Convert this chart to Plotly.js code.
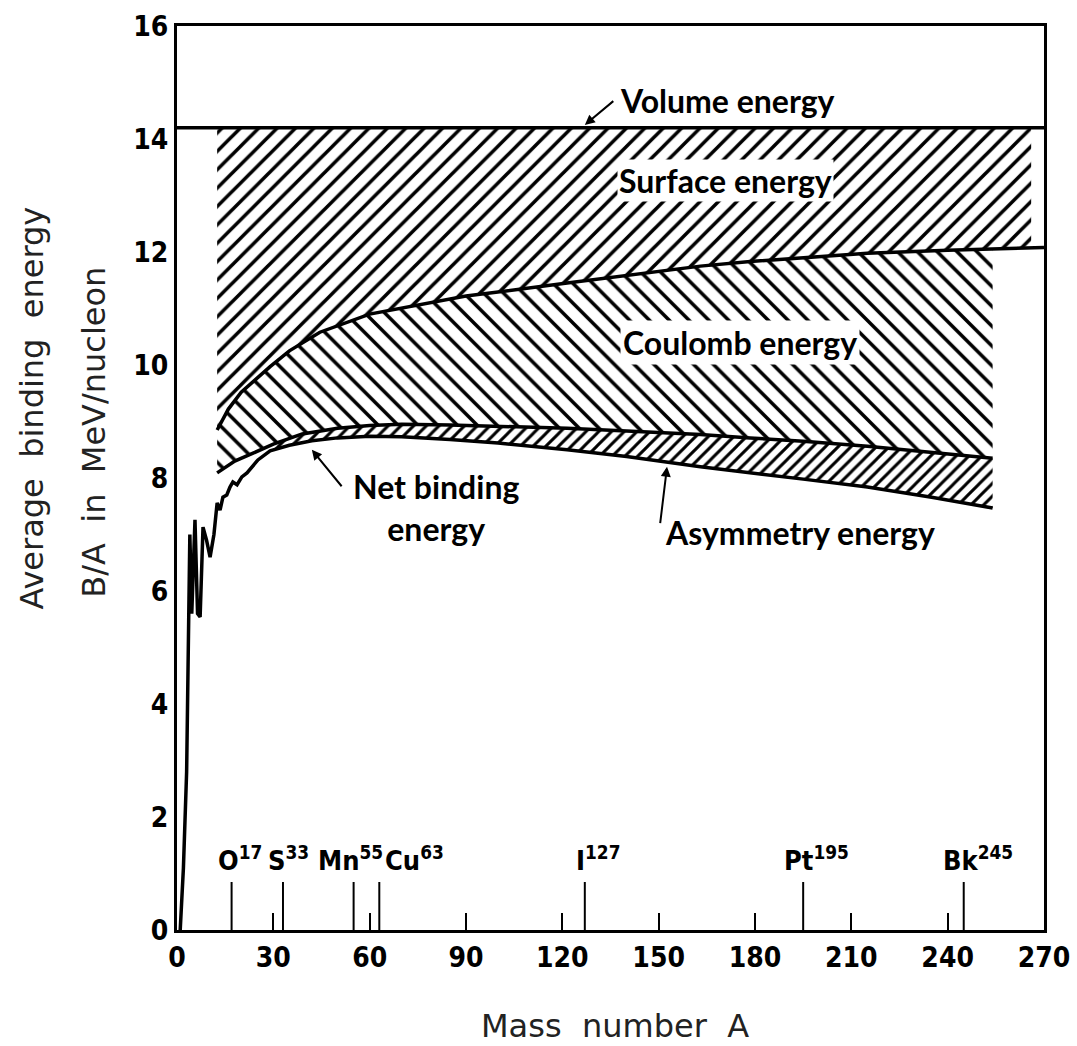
<!DOCTYPE html>
<html><head><meta charset="utf-8">
<script src="https://cdn.plot.ly/plotly-3.0.1.min.js"></script>
<style>html,body{margin:0;padding:0;background:#fff}</style>
</head><body>
<div id="chart" style="width:1077px;height:1046px"></div>
<script>
// ---- data ----
const volumeEnergy = 14.2;
const volumeA = [0, 270];
const surfaceA = [12.5, 16, 20, 25, 29, 35, 44.5, 60, 69.5, 90, 121.5, 150, 163, 178.5, 215, 240, 254, 266, 270];
const surfaceB = [8.85, 9.22, 9.52, 9.78, 9.97, 10.25, 10.58, 10.9, 11.0, 11.22, 11.45, 11.65, 11.75, 11.83, 11.98, 12.03, 12.05, 12.07, 12.08];
const coulombA = [12.5, 18, 23.7, 30, 39, 50, 60, 70, 85, 100, 121.5, 140, 163, 178.5, 195, 215, 235, 254];
const coulombB = [8.09, 8.3, 8.44, 8.6, 8.78, 8.88, 8.93, 8.95, 8.94, 8.92, 8.88, 8.83, 8.77, 8.71, 8.65, 8.56, 8.46, 8.35];
const netA = [1, 2, 3, 4, 4.6, 5.6, 6.4, 7.2, 8.1, 9.2, 10.3, 11.5, 12.5, 13.4, 14.3, 15.5, 16.5, 17.4, 18.7, 20.2, 21.8, 23.4, 25.2, 29, 35, 42, 50, 60, 70, 85, 100, 121.5, 140, 163, 178.5, 195, 215, 235, 254];
const netB = [0, 1.1, 2.8, 7.0, 5.6, 7.26, 5.6, 5.54, 7.13, 6.9, 6.6, 7.0, 7.56, 7.43, 7.66, 7.7, 7.84, 7.93, 7.88, 8.02, 8.09, 8.2, 8.32, 8.48, 8.58, 8.66, 8.71, 8.74, 8.73, 8.68, 8.62, 8.5, 8.38, 8.2, 8.1, 7.98, 7.84, 7.66, 7.47];
const isotopeNames = ['O', 'S', 'Mn', 'Cu', 'I', 'Pt', 'Bk'];
const isotopeA = [17, 33, 55, 63, 127, 195, 245];
const isotopeTickTop = 0.85;
const xTicks = [0, 30, 60, 90, 120, 150, 180, 210, 240, 270];
const yTicks = [0, 2, 4, 6, 8, 10, 12, 14, 16];

// hatch extents (mass number)
const surfaceHatch = [12.5, 266];
const coulombHatch = [12.5, 254];
const asymHatch = [29, 254];

// ---- helpers ----
function pick(A, B, lo, hi) {
  const x = [], y = [];
  A.forEach((a, i) => { if (a >= lo && a <= hi) { x.push(a); y.push(B[i]); } });
  return {x, y};
}
function band(upper, lower) {
  return {
    x: upper.x.concat(lower.x.slice().reverse()),
    y: upper.y.concat(lower.y.slice().reverse())
  };
}
function hatchTrace(poly, shape, size, solidity) {
  return {
    x: poly.x, y: poly.y, type: 'scatter', mode: 'lines',
    fill: 'toself', line: {width: 0, color: 'rgba(0,0,0,0)'},
    fillcolor: 'rgba(0,0,0,0)',
    fillpattern: {shape: shape, size: size, solidity: solidity, fgcolor: '#000', bgcolor: 'rgba(255,255,255,0)'},
    hoverinfo: 'skip', showlegend: false
  };
}

const sLow = pick(surfaceA, surfaceB, surfaceHatch[0], surfaceHatch[1]);
const surfacePoly = {x: [surfaceHatch[0]].concat(sLow.x, [surfaceHatch[1]]), y: [volumeEnergy].concat(sLow.y, [volumeEnergy])};

const cUp = pick(surfaceA, surfaceB, coulombHatch[0], coulombHatch[1]);
const cLow = pick(coulombA, coulombB, coulombHatch[0], coulombHatch[1]);
const coulombPoly = band(cUp, cLow);

const aUp = pick(coulombA, coulombB, asymHatch[0], asymHatch[1]);
const aLow = pick(netA, netB, asymHatch[0], asymHatch[1]);
const asymPoly = band(aUp, aLow);

const isoX = [], isoY = [];
isotopeA.forEach(a => { isoX.push(a, a, null); isoY.push(0, isotopeTickTop, null); });

const lineTrace = (x, y, w) => ({x, y, type: 'scatter', mode: 'lines', line: {color: '#000', width: w}, hoverinfo: 'skip', showlegend: false});

const traces = [
  hatchTrace(surfacePoly, '/', 13, 0.27),
  hatchTrace(coulombPoly, '\\', 14, 0.25),
  hatchTrace(asymPoly, '/', 9, 0.33),
  lineTrace(volumeA, volumeA.map(() => volumeEnergy), 3.5),
  lineTrace(surfaceA, surfaceB, 3.5),
  lineTrace(coulombA, coulombB, 3.5),
  lineTrace(netA, netB, 3.5),
  lineTrace(isoX, isoY, 2)
];

const tickFont = {family: "'DejaVu Sans Condensed', 'Liberation Sans', sans-serif", size: 28, color: '#000', weight: 'bold'};
const labelFont = {family: 'Lato, "Open Sans", sans-serif', size: 32, color: '#000', weight: 'bold'};
const titleFont = {family: '"DejaVu Sans", Verdana, sans-serif', size: 32, color: '#222'};
const sp = '\u00A0\u00A0';

const isoShift = [8, 6, -3, 35, 14, 13, 14];
const annotations = isotopeNames.map((n, i) => ({
  x: isotopeA[i], y: 1.27, xref: 'x', yref: 'y', showarrow: false,
  text: n + '<sup>' + isotopeA[i] + '</sup>', xanchor: 'center', yanchor: 'middle',
  xshift: isoShift[i], font: {family: tickFont.family, size: 27, color: '#000', weight: 'bold'}
}));

annotations.push(
  {x: 137.3, y: 14.69, xref: 'x', yref: 'y', text: 'Volume energy', showarrow: false, xanchor: 'left', yanchor: 'middle', font: labelFont},
  {x: 127, y: 14.25, xref: 'x', yref: 'y', text: '', showarrow: true, ax: 30, ay: -25, arrowhead: 2, arrowsize: 1, arrowwidth: 2, arrowcolor: '#000'},
  {x: 170.7, y: 13.27, xref: 'x', yref: 'y', text: 'Surface energy', showarrow: false, font: labelFont, bgcolor: '#fff', borderpad: 1},
  {x: 175.3, y: 10.39, xref: 'x', yref: 'y', text: 'Coulomb energy', showarrow: false, font: labelFont, bgcolor: '#fff', borderpad: 2},
  {x: 80.7, y: 7.47, xref: 'x', yref: 'y', text: 'Net binding<br>energy', showarrow: false, font: labelFont},
  {x: 42, y: 8.5, xref: 'x', yref: 'y', text: '', showarrow: true, ax: 31, ay: 38, arrowhead: 2, arrowsize: 1, arrowwidth: 2, arrowcolor: '#000'},
  {x: 194, y: 7.03, xref: 'x', yref: 'y', text: 'Asymmetry energy', showarrow: false, font: labelFont},
  {x: 152.6, y: 8.2, xref: 'x', yref: 'y', text: '', showarrow: true, ax: -7, ay: 58, arrowhead: 2, arrowsize: 1, arrowwidth: 2, arrowcolor: '#000'},
  {x: -0.167, y: 0.577, xref: 'paper', yref: 'paper', xanchor: 'center', yanchor: 'middle', text: 'Average' + sp + 'binding' + sp + 'energy', textangle: -90, showarrow: false, font: titleFont},
  {x: -0.096, y: 0.551, xref: 'paper', yref: 'paper', xanchor: 'center', yanchor: 'middle', text: 'B/A' + sp + 'in' + sp + 'MeV/nucleon', textangle: -90, showarrow: false, font: titleFont},
  {x: 0.505, y: -0.106, xref: 'paper', yref: 'paper', xanchor: 'center', yanchor: 'middle', text: 'Mass' + sp + 'number' + sp + 'A', showarrow: false, font: titleFont}
);

const layout = {
  width: 1077, height: 1046,
  margin: {l: 177, r: 33, t: 26, b: 116},
  paper_bgcolor: '#fff', plot_bgcolor: '#fff',
  showlegend: false,
  xaxis: {
    range: [0, 270], tickvals: xTicks, ticktext: xTicks.map(String),
    ticks: 'inside', ticklen: 17, tickwidth: 2, tickcolor: '#000',
    showline: true, linewidth: 3, linecolor: '#000', mirror: true,
    showgrid: false, zeroline: false, tickfont: tickFont, fixedrange: true
  },
  yaxis: {
    range: [0, 16], tickvals: yTicks, ticktext: yTicks.map(String),
    ticks: '', showline: true, linewidth: 3, linecolor: '#000', mirror: true,
    showgrid: false, zeroline: false, tickfont: tickFont, fixedrange: true
  },
  annotations: annotations
};

Plotly.newPlot('chart', traces, layout, {staticPlot: true, displayModeBar: false});
</script>
</body></html>
